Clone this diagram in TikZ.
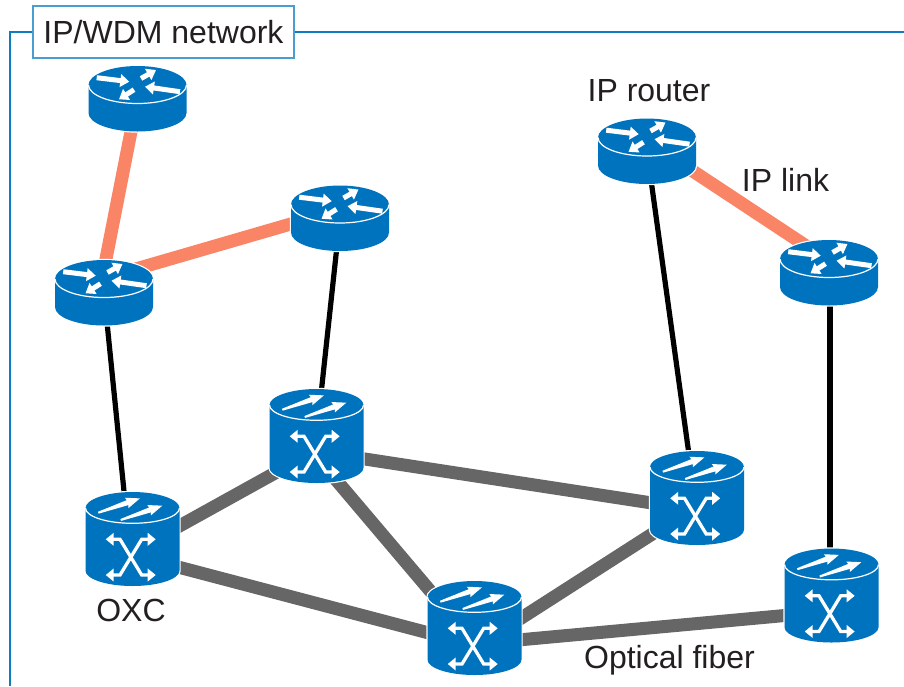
\documentclass[tikz,border=0pt]{standalone}
\usepackage{fontspec}
\setmainfont{Liberation Sans}
\usetikzlibrary{arrows.meta}
\definecolor{iconblue}{HTML}{0073BE}
\definecolor{framecol}{HTML}{0F7CBF}
\definecolor{boxcol}{HTML}{4A9DCF}
\definecolor{iplink}{HTML}{F98566}
\definecolor{fibercol}{HTML}{666666}
\definecolor{textcol}{HTML}{231F20}
\tikzset{
  x=1pt,y=-1pt,
  lab/.style={inner sep=0pt,text=textcol,font=\fontsize{32}{36}\selectfont},
  hub/.style={inner sep=0pt,minimum size=1pt},
  iplinkline/.style={draw=iplink,line width=13pt},
  fiberline/.style={draw=fibercol,line width=13pt},
  accessline/.style={draw=black,line width=5.2pt},
  frameline/.style={draw=framecol,line width=2.8pt},
  warrow/.style={draw=white,line width=5pt,-{Triangle[width=12.5pt,length=9pt]}},
  xarrow/.style={draw=white,line width=3.3pt,line join=miter,{Triangle[width=12.5pt,length=8pt]}-{Triangle[width=12.5pt,length=8pt]}},
  iconbody/.style={preaction={draw=white,line width=2.4pt},fill=iconblue},
  router/.pic={
    \path[iconbody]
      (-49,-13.5) .. controls (-49,-23.7) and (-27,-32.5) .. (0,-32.5)
      .. controls (27,-32.5) and (49,-23.7) .. (49,-13.5) -- (49,14.5)
      .. controls (49,24.7) and (27,33) .. (0,33)
      .. controls (-27,33) and (-49,24.7) .. (-49,14.5) -- cycle;
    \draw[white,line width=1.2pt]
      (-49,-13.5) .. controls (-49,-3.3) and (-27,5) .. (0,5)
      .. controls (27,5) and (49,-3.3) .. (49,-13.5);
    \draw[warrow] (-40.8,-20.8) -- (-8.2,-16.8);
    \draw[warrow] (3.5,-20) -- (18.5,-28.5);
    \draw[warrow] (42.5,-6.8) -- (7.5,-11.8);
    \draw[warrow] (-3.5,-8.8) -- (-18.5,0.8);
  },
  oxc/.pic={
    \path[iconbody]
      (-47,-31) .. controls (-47,-39.5) and (-26,-47) .. (0,-47)
      .. controls (26,-47) and (47,-39.5) .. (47,-31) -- (47,31.7)
      .. controls (47,40) and (26,47) .. (0,47)
      .. controls (-26,47) and (-47,40) .. (-47,31.7) -- cycle;
    \draw[white,line width=1.2pt]
      (-47,-31) .. controls (-47,-22.5) and (-26,-15.7) .. (0,-15.7)
      .. controls (26,-15.7) and (47,-22.5) .. (47,-31);
    \fill[white,shift={(-34.2,-26.3)},rotate=19]
      (0,-1) -- (31,-2.6) -- (30,-5.5) -- (44,0) -- (30,5.5) -- (31,2.6) -- (0,1) -- cycle;
    \fill[white,shift={(-11.8,-19)},rotate=19]
      (0,-1) -- (31,-2.6) -- (30,-5.5) -- (44,0) -- (30,5.5) -- (31,2.6) -- (0,1) -- cycle;
    \draw[xarrow] (-26.8,0.3) -- (-12.5,0.3) -- (9.2,36) -- (23.2,36);
    \draw[xarrow] (23.2,0.3) -- (9.2,0.3) -- (-12.5,36) -- (-26.8,36);
  }
}
\begin{document}
\begin{tikzpicture}
\useasboundingbox (0,0) rectangle (904,686);
% hubs
\node[hub] (r1) at (137.5,98.5) {};
\node[hub] (r2) at (104,292.5) {};
\node[hub] (r3) at (340,218) {};
\node[hub] (r4) at (647,151) {};
\node[hub] (r5) at (829,272.5) {};
\node[hub] (o1) at (132.5,539) {};
\node[hub] (o2) at (316.5,436) {};
\node[hub] (o3) at (697,498) {};
\node[hub] (o4) at (474.5,628) {};
\node[hub] (o5) at (831.5,595.5) {};
% frame
\coordinate (fbottom) at (10,686);
\coordinate (fright) at (904,32);
\node[lab,draw=boxcol,line width=2pt,fill=white,minimum width=261pt,minimum height=52pt] (title) at (163.5,32) {IP/WDM network};
\draw[frameline] (fbottom) |- (title.west);
\draw[frameline] (title.east) -- (fright);
% links
\draw[iplinkline] (r1.center) -- ([xshift=-4.6pt]r2.center);
\draw[iplinkline] ([yshift=14.3pt]r2.center) -- ([yshift=8.3pt]r3.center);
\draw[iplinkline] ([yshift=10.2pt]r4.center) -- ([yshift=11.5pt]r5.center);
\draw[accessline] (r2.center) -- ([xshift=-3.7pt]o1.center);
\draw[accessline] (r3.center) -- (o2.center);
\draw[accessline] (r4.center) -- ([xshift=-2pt]o3.center);
\draw[accessline] ([xshift=1pt]r5.center) -- ([xshift=-1.5pt]o5.center);
\draw[fiberline] ([yshift=-13pt]o1.center) -- ([yshift=-14pt]o2.center);
\draw[fiberline] ([yshift=-16pt]o1.center) -- ([yshift=-17pt]o4.center);
\draw[fiberline] ([yshift=-15.6pt]o2.center) -- ([yshift=-11.9pt]o3.center);
\draw[fiberline] ([yshift=-20.8pt]o2.center) -- ([yshift=-15.2pt]o4.center);
\draw[fiberline] ([yshift=-7.3pt]o3.center) -- ([yshift=-20pt]o4.center);
\draw[fiberline] ([yshift=-16pt]o4.center) -- ([yshift=-15.7pt]o5.center);
% icons
\foreach \n in {r1,r2,r3,r4,r5} \pic at (\n) {router};
\foreach \n in {o1,o2,o3,o4,o5} \pic at (\n) {oxc};
% labels
\node[lab] (lrouter) at (649,91) {IP router};
\node[lab] (llink) at (785.5,180) {IP link};
\node[lab] (loxc) at (131,610) {OXC};
\node[lab] (lfiber) at (669.5,660) {Optical fiber};
\end{tikzpicture}
\end{document}
